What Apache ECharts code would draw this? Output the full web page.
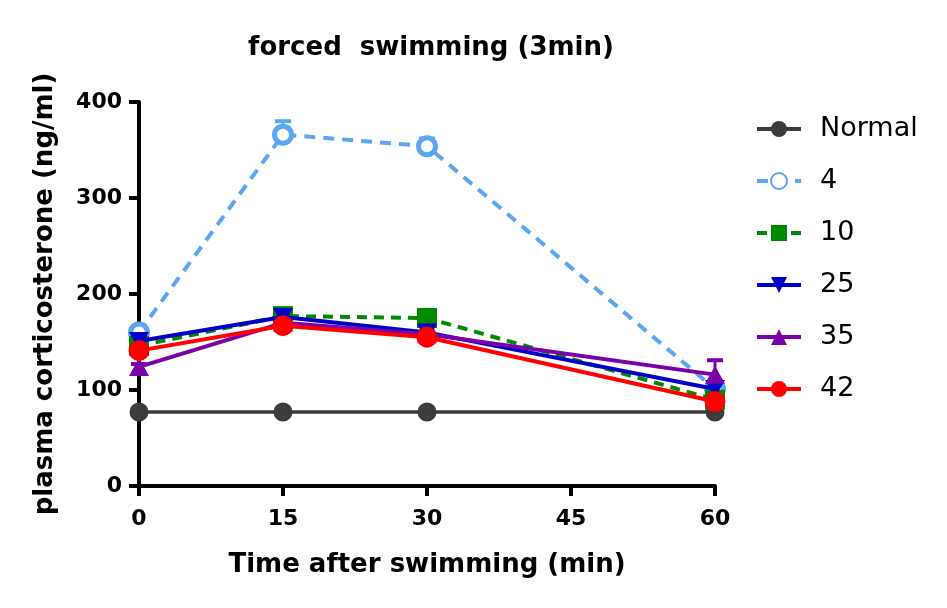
<!DOCTYPE html>
<html>
<head>
<meta charset="utf-8">
<script src="https://cdn.jsdelivr.net/npm/echarts@6/dist/echarts.min.js"></script>
<style>
  html, body { margin: 0; padding: 0; background: #fff; }
  #chart { width: 947px; height: 608px; }
</style>
</head>
<body>
<div id="chart"></div>
<script type="text/javascript">
// time points (min)
var times = [0, 15, 30, 60];
var xTicks = [0, 15, 30, 45, 60];

// group names and means (ng/ml)
var names = ['Normal', '4', '10', '25', '35', '42'];
var normal = [77, 77, 77, 77];
var g4 = [160, 366, 354, 101];
var g10 = [146, 177, 175, 90];
var g25 = [151, 176, 160, 101];
var g35 = [124, 170, 158, 116];
var g42 = [141, 167, 155, 88];

// upper error (SEM)
var err4 = [4, 14, 8, 3];
var err35 = [3, 4, 3, 15];

var colors = ['#3b3b3b', '#5ba7f2', '#008a00', '#0000c8', '#7a00aa', '#ff0000'];
var font = 'DejaVu Sans';

function pairs(vals) {
    return times.map(function (t, i) { return [t, vals[i]]; });
}

function errData(vals, errs) {
    return times.map(function (t, i) { return [t, vals[i], vals[i] + errs[i]]; });
}

function errSeries(vals, errs, color) {
    return {
        type: 'custom',
        data: errData(vals, errs),
        z: 1,
        silent: true,
        renderItem: function (params, api) {
            var p0 = api.coord([api.value(0), api.value(1)]);
            var p1 = api.coord([api.value(0), api.value(2)]);
            return {
                type: 'group',
                children: [
                    { type: 'line', shape: { x1: p0[0], y1: p0[1], x2: p1[0], y2: p1[1] }, style: { stroke: color, lineWidth: 3 } },
                    { type: 'line', shape: { x1: p1[0] - 8, y1: p1[1], x2: p1[0] + 8, y2: p1[1] }, style: { stroke: color, lineWidth: 4 } }
                ]
            };
        }
    };
}

var myChart = echarts.init(document.getElementById('chart'));

var option = {
    animation: false,
    title: {
        text: 'forced  swimming (3min)',
        left: 426,
        textAlign: 'center',
        top: 30,
        textStyle: { fontFamily: font, fontWeight: 'bold', fontSize: 26, color: '#000' }
    },
    legend: {
        orient: 'vertical',
        left: 750,
        top: 110,
        itemWidth: 44,
        itemHeight: 20,
        itemGap: 24,
        data: names,
        lineStyle: { width: 4 },
        textStyle: { fontFamily: font, fontSize: 27, lineHeight: 28, color: '#000', padding: [0, 0, 0, 14] }
    },
    grid: { left: 139, right: 232, top: 102, bottom: 122, containLabel: false },
    xAxis: {
        type: 'value',
        min: 0,
        max: 60,
        interval: 15,
        name: 'Time after swimming (min)',
        nameLocation: 'middle',
        nameGap: 66,
        nameTextStyle: { fontFamily: font, fontWeight: 'bold', fontSize: 26, color: '#000' },
        axisLine: { lineStyle: { color: '#000', width: 4 } },
        axisTick: { length: 10, lineStyle: { color: '#000', width: 4 } },
        axisLabel: {
            fontFamily: font, fontWeight: 'bold', fontSize: 22, color: '#000', margin: 22,
            formatter: function (v) { return xTicks.indexOf(v) >= 0 ? String(v) : ''; }
        },
        splitLine: { show: false }
    },
    yAxis: {
        type: 'value',
        min: 0,
        max: 400,
        interval: 100,
        name: 'plasma corticosterone (ng/ml)',
        nameLocation: 'middle',
        nameGap: 81,
        nameTextStyle: { fontFamily: font, fontWeight: 'bold', fontSize: 26, color: '#000' },
        axisLine: { show: true, lineStyle: { color: '#000', width: 4 } },
        axisTick: { show: true, length: 10, lineStyle: { color: '#000', width: 4 } },
        axisLabel: { fontFamily: font, fontWeight: 'bold', fontSize: 22, color: '#000', margin: 17 },
        splitLine: { show: false }
    },
    series: [
        errSeries(g4, err4, colors[1]),
        errSeries(g35, err35, colors[4]),
        {
            name: 'Normal', type: 'line', data: pairs(normal), z: 2,
            symbol: 'circle', symbolSize: 19,
            itemStyle: { color: colors[0] },
            lineStyle: { color: colors[0], width: 3.5 }
        },
        {
            name: '4', type: 'line', data: pairs(g4), z: 3,
            symbol: 'circle', symbolSize: 17,
            itemStyle: { color: '#fff', borderColor: colors[1], borderWidth: 5 },
            lineStyle: { color: colors[1], width: 4, type: [11, 8] }
        },
        {
            name: '10', type: 'line', data: pairs(g10), z: 4,
            symbol: 'rect', symbolSize: 20,
            itemStyle: { color: colors[2] },
            lineStyle: { color: colors[2], width: 4, type: [10, 7] }
        },
        {
            name: '25', type: 'line', data: pairs(g25), z: 5,
            symbol: 'path://M0,0 L10,0 L5,9 Z', symbolSize: [20, 18],
            itemStyle: { color: colors[3] },
            lineStyle: { color: colors[3], width: 4 }
        },
        {
            name: '35', type: 'line', data: pairs(g35), z: 5,
            symbol: 'triangle', symbolSize: [20, 18],
            itemStyle: { color: colors[4] },
            lineStyle: { color: colors[4], width: 4 }
        },
        {
            name: '42', type: 'line', data: pairs(g42), z: 5,
            symbol: 'circle', symbolSize: 21,
            itemStyle: { color: colors[5] },
            lineStyle: { color: colors[5], width: 4 }
        }
    ]
};

myChart.setOption(option);
</script>
</body>
</html>
